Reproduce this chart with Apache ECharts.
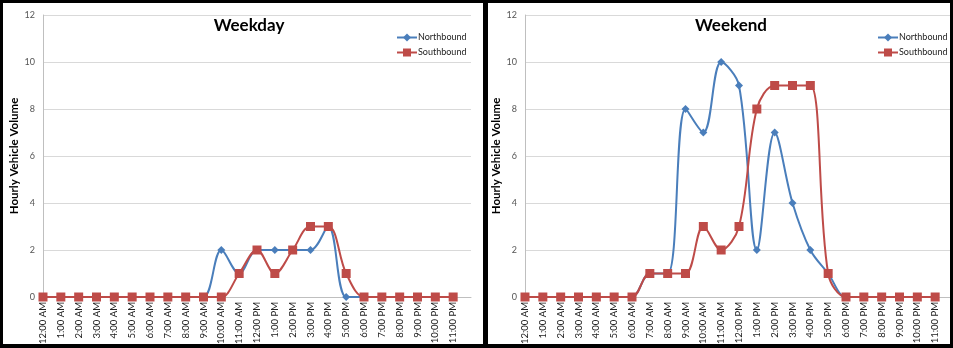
<!DOCTYPE html>
<html>
<head>
<meta charset="utf-8">
<script src="https://cdn.jsdelivr.net/npm/echarts@6/dist/echarts.min.js"></script>
<style>
html,body{margin:0;padding:0;background:#fff;}
#c{width:953px;height:348px;}
</style>
</head>
<body>
<div id="c"></div>
<script>
var hours = ['12:00 AM','1:00 AM','2:00 AM','3:00 AM','4:00 AM','5:00 AM','6:00 AM','7:00 AM','8:00 AM','9:00 AM','10:00 AM','11:00 AM','12:00 PM','1:00 PM','2:00 PM','3:00 PM','4:00 PM','5:00 PM','6:00 PM','7:00 PM','8:00 PM','9:00 PM','10:00 PM','11:00 PM'];
var weekdayNorth = [0,0,0,0,0,0,0,0,0,0,2,1,2,2,2,2,3,0,0,0,0,0,0,0];
var weekdaySouth = [0,0,0,0,0,0,0,0,0,0,0,1,2,1,2,3,3,1,0,0,0,0,0,0];
var weekendNorth = [0,0,0,0,0,0,0,1,1,8,7,10,9,2,7,4,2,1,0,0,0,0,0,0];
var weekendSouth = [0,0,0,0,0,0,0,1,1,1,3,2,3,8,9,9,9,1,0,0,0,0,0,0];
var titles = ['Weekday','Weekend'];
var seriesNames = ['Northbound','Southbound'];
var yTicks = [0,2,4,6,8,10,12];

var BLUE = '#4A7EBB', RED = '#BE4B48';
var FONT = 'Lato, "Open Sans", sans-serif';
function pairs(arr){ return arr.map(function(v,i){ return [i,v]; }); }

var grids = [
  {left:43, top:15, width:428, height:282},
  {left:525, top:15, width:428, height:282}
];
var titleX = [244, 726];
var legendLeft = [391, 872];

var chart = echarts.init(document.getElementById('c'), null, {renderer:'canvas'});
var option = {
  backgroundColor:'#fff',
  animation:false,
  title: titles.map(function(t,i){
    return {text:t, left:titleX[i], top:12, textAlign:'center',
      textStyle:{fontFamily:FONT, fontSize:17, fontWeight:'bold', color:'#000'}};
  }),
  legend: [0,1].map(function(i){
    return {data:[seriesNames[0]+(i?' ':''), seriesNames[1]+(i?' ':'')],
      orient:'vertical', left:legendLeft[i], top:28, itemGap:6, itemWidth:20, itemHeight:10,
      formatter:function(n){ return n.trim(); },
      textStyle:{fontFamily:FONT, fontSize:9, color:'#222', padding:[0,0,0,-4]}};
  }),
  grid: grids,
  xAxis: [0,1].map(function(i){
    return {type:'value', gridIndex:i, min:0, max:24, interval:1,
      axisLine:{show:true, lineStyle:{color:'#bfbfbf', width:1}},
      axisTick:{show:false},
      splitLine:{show:false},
      axisLabel:{rotate:90, interval:0, fontSize:9.5, color:'#222', fontFamily:FONT, margin:5,
        showMinLabel:true, showMaxLabel:true,
        formatter:function(v){ return hours[v] !== undefined ? hours[v] : ''; }}};
  }),
  yAxis: [0,1].map(function(i){
    return {type:'value', gridIndex:i, min:yTicks[0], max:yTicks[yTicks.length-1], interval:yTicks[1]-yTicks[0],
      name:'Hourly Vehicle Volume', nameLocation:'middle', nameGap:22,
      nameTextStyle:{fontFamily:FONT, fontSize:11.5, fontWeight:'bold', color:'#000'},
      axisLine:{show:true, lineStyle:{color:'#bfbfbf', width:1}},
      axisTick:{show:false},
      splitLine:{show:true, lineStyle:{color:'#d9d9d9', width:1}},
      axisLabel:{fontSize:9, color:'#555', fontFamily:FONT, margin:8}};
  }),
  series: [
    {name:seriesNames[0], type:'line', xAxisIndex:0, yAxisIndex:0, data:pairs(weekdayNorth), smooth:0.35,
      symbol:'diamond', symbolSize:8, itemStyle:{color:BLUE}, lineStyle:{color:BLUE, width:2}, z:2},
    {name:seriesNames[1], type:'line', xAxisIndex:0, yAxisIndex:0, data:pairs(weekdaySouth), smooth:0.35,
      symbol:'rect', symbolSize:9, itemStyle:{color:RED}, lineStyle:{color:RED, width:2}, z:3},
    {name:seriesNames[0]+' ', type:'line', xAxisIndex:1, yAxisIndex:1, data:pairs(weekendNorth), smooth:0.35,
      symbol:'diamond', symbolSize:8, itemStyle:{color:BLUE}, lineStyle:{color:BLUE, width:2}, z:2},
    {name:seriesNames[1]+' ', type:'line', xAxisIndex:1, yAxisIndex:1, data:pairs(weekendSouth), smooth:0.35,
      symbol:'rect', symbolSize:9, itemStyle:{color:RED}, lineStyle:{color:RED, width:2}, z:3}
  ],
  graphic: [
    {type:'rect', shape:{x:0,y:0,width:953,height:3}, style:{fill:'#000'}, z:100},
    {type:'rect', shape:{x:0,y:344,width:953,height:4}, style:{fill:'#000'}, z:100},
    {type:'rect', shape:{x:0,y:0,width:3,height:348}, style:{fill:'#000'}, z:100},
    {type:'rect', shape:{x:483,y:0,width:5,height:348}, style:{fill:'#000'}, z:100},
    {type:'rect', shape:{x:950,y:0,width:3,height:348}, style:{fill:'#000'}, z:100}
  ]
};
chart.setOption(option);
</script>
</body>
</html>
